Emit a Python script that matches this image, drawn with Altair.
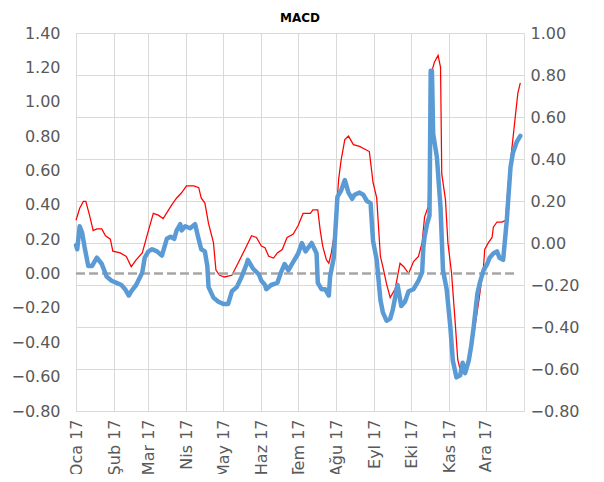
import altair as alt
import pandas as pd

# Day offsets from 2017-01-01 and values
red_days = [0, 3, 6, 8, 11, 14, 17, 21, 24, 28, 30, 36, 41, 45, 49, 54, 59, 63, 67, 71,
            78, 82, 86, 90, 93, 96, 100, 102, 105, 108, 112, 114, 117, 121, 127, 132, 139,
            143, 147, 151, 154, 157, 161, 164, 168, 172, 177, 181, 185, 191, 193, 197, 199,
            201, 204, 206, 208, 211, 214, 216, 219, 222, 226, 231, 239, 242, 245, 248, 250,
            253, 256, 260, 264, 267, 271, 275, 279, 282, 284, 287, 290, 292, 295, 297, 298,
            301, 303, 306, 309, 311, 313, 316, 318, 322, 328, 332, 333, 336, 339, 340, 343,
            347, 350, 352, 355, 358, 360, 362]
red_vals = [0.31, 0.38, 0.42, 0.42, 0.34, 0.25, 0.26, 0.26, 0.22, 0.20, 0.13, 0.12, 0.10, 0.04,
            0.08, 0.12, 0.25, 0.35, 0.34, 0.32, 0.40, 0.44, 0.47, 0.51, 0.51, 0.51, 0.50, 0.44,
            0.41, 0.29, 0.18, 0.02, -0.01, -0.02, -0.01, 0.06, 0.16, 0.22, 0.21, 0.16, 0.15,
            0.10, 0.09, 0.12, 0.14, 0.21, 0.23, 0.28, 0.35, 0.35, 0.37, 0.37, 0.25, 0.16, 0.08,
            0.06, 0.12, 0.25, 0.55, 0.66, 0.78, 0.80, 0.75, 0.74, 0.71, 0.53, 0.44, 0.10, 0.04,
            -0.06, -0.14, -0.09, 0.06, 0.04, 0.00, 0.07, 0.10, 0.18, 0.33, 0.39, 1.18, 1.23,
            1.27, 1.20, 0.58, 0.43, 0.18, 0.00, -0.29, -0.50, -0.56, -0.56, -0.53, -0.45, -0.17,
            0.04, 0.14, 0.18, 0.21, 0.27, 0.30, 0.30, 0.31, 0.51, 0.72, 0.92, 1.05, 1.11]

blue_days = [0, 1, 3, 5, 7, 10, 13, 17, 21, 25, 29, 33, 37, 40, 43, 45, 49, 54, 56, 59, 62, 66,
             70, 74, 77, 80, 82, 85, 86, 89, 93, 97, 99, 102, 105, 107, 108, 112, 116, 120, 124,
             127, 131, 135, 139, 140, 144, 149, 151, 154, 155, 159, 164, 167, 170, 173, 177,
             181, 184, 187, 192, 196, 197, 200, 203, 206, 207, 210, 213, 216, 219, 222, 225,
             227, 231, 234, 237, 240, 242, 245, 248, 250, 253, 256, 258, 262, 265, 268, 271,
             275, 279, 282, 283, 284, 286, 288, 289, 290, 291, 294, 297, 299, 302, 305, 307,
             310, 313, 315, 317, 320, 322, 324, 327, 329, 332, 335, 337, 340, 343, 345, 348,
             351, 354, 356, 359, 362]
blue_vals = [-0.01, -0.03, 0.08, 0.05, -0.02, -0.11, -0.11, -0.07, -0.10, -0.16, -0.18, -0.19,
             -0.20, -0.22, -0.25, -0.23, -0.20, -0.14, -0.07, -0.04, -0.03, -0.04, -0.06, 0.02,
             0.03, 0.02, 0.06, 0.09, 0.06, 0.08, 0.07, 0.09, 0.04, -0.03, -0.04, -0.11, -0.21,
             -0.26, -0.28, -0.29, -0.29, -0.23, -0.21, -0.16, -0.10, -0.08, -0.12, -0.15, -0.18,
             -0.20, -0.22, -0.20, -0.19, -0.14, -0.10, -0.13, -0.09, -0.05, 0.00, -0.04, 0.00,
             -0.05, -0.19, -0.22, -0.22, -0.25, -0.16, -0.07, 0.22, 0.25, 0.30, 0.24, 0.21, 0.23,
             0.24, 0.23, 0.20, 0.19, 0.01, -0.08, -0.27, -0.33, -0.37, -0.36, -0.32, -0.20,
             -0.30, -0.28, -0.23, -0.22, -0.18, -0.14, -0.02, 0.03, 0.09, 0.13, 0.82, 0.82, 0.52,
             0.41, 0.17, -0.13, -0.22, -0.40, -0.56, -0.64, -0.63, -0.57, -0.62, -0.56, -0.49,
             -0.40, -0.24, -0.19, -0.13, -0.10, -0.07, -0.05, -0.04, -0.07, -0.08, 0.11, 0.36,
             0.43, 0.48, 0.51]

zero_days = [0, 358]
zero_vals = [0.0, 0.0]

month_names = ["Oca", "Şub", "Mar", "Nis", "May", "Haz", "Tem", "Ağu", "Eyl", "Eki", "Kas", "Ara"]
left_ticks = [round(-0.8 + 0.2 * i, 2) for i in range(12)]
right_ticks = [round(-0.8 + 0.2 * i, 2) for i in range(10)]


def to_dates(days):
    base = pd.Timestamp("2017-01-01")
    return [(base + pd.Timedelta(days=int(d))).strftime("%Y-%m-%d") for d in days]


red_df = pd.DataFrame({"date": to_dates(red_days), "v": red_vals})
blue_df = pd.DataFrame({"date": to_dates(blue_days), "v": blue_vals})
zero_df = pd.DataFrame({"date": to_dates(zero_days), "v": zero_vals})

FONT = "DejaVu Sans"
GRID = "#D9D9D9"
LBL = "#595959"

month_ticks = [alt.DateTime(year=2017, month=m, date=1, utc=True) for m in range(1, 13)]
x_dom = [alt.DateTime(year=2017, month=1, date=1, utc=True),
         alt.DateTime(year=2018, month=1, date=1, utc=True)]
names_js = "[" + ",".join("'" + n + "'" for n in month_names) + "]"

x_enc = alt.X("date:T", title=None,
              scale=alt.Scale(type="utc", domain=x_dom),
              axis=alt.Axis(values=month_ticks, labelExpr=names_js + "[utcmonth(datum.value)] + ' 17'",
                            labelAngle=-90, labelFont=FONT, labelFontSize=16, labelColor=LBL,
                            labelPadding=8, ticks=False, tickSize=0, grid=True, gridColor=GRID,
                            gridWidth=1, domainColor=GRID, domainWidth=1, labelOverlap=False,
                            labelFlush=False))

left_scale = alt.Scale(domain=[-0.8, 1.4], nice=False, zero=False)
left_y = alt.Y("v:Q", title=None, scale=left_scale,
               axis=alt.Axis(orient="left", values=left_ticks, format=".2f", grid=False,
                             domain=False, ticks=False, tickSize=0, labelPadding=16,
                             labelFont=FONT, labelFontSize=16, labelColor=LBL))

right_y = alt.Y("v:Q", title=None,
                scale=alt.Scale(domain=[-0.8, 1.0], nice=False, zero=False),
                axis=alt.Axis(orient="right", values=right_ticks, format=".2f", grid=True,
                              gridColor=GRID, gridWidth=1, domain=False, ticks=False,
                              tickSize=0, labelPadding=6, labelFont=FONT, labelFontSize=16,
                              labelColor=LBL))

red = alt.Chart(red_df).mark_line(color="#FF0000", strokeWidth=1.25).encode(x=x_enc, y=left_y)
zero = alt.Chart(zero_df).mark_line(color="#A6A6A6", strokeWidth=2.5, strokeDash=[9, 4]).encode(
    x=x_enc, y=left_y)
blue = alt.Chart(blue_df).mark_line(color="#5B9BD5", strokeWidth=4.5, strokeJoin="round",
                                    strokeCap="round").encode(x=x_enc, y=right_y)

left_layer = alt.layer(red, zero)

chart = alt.layer(left_layer, blue).resolve_scale(y="independent").properties(
    width=448, height=378,
    title=alt.Title("MACD", font=FONT, fontSize=12, fontWeight="bold", color="#000000",
                    anchor="middle", offset=0),
    autosize=alt.AutoSizeParams(type="none"),
    padding={"left": 68, "top": 25, "right": 72, "bottom": 63},
).configure_view(stroke=None).configure(background="white")

chart.save("out.html", embed_options={"renderer": "svg", "actions": False})
